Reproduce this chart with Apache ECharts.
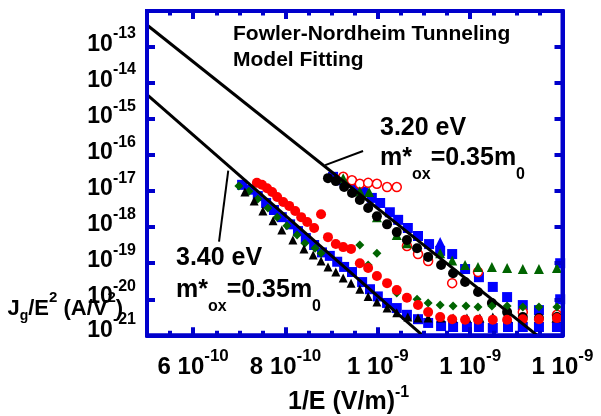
<!DOCTYPE html>
<html>
<head>
<meta charset="utf-8">
<script src="https://cdn.jsdelivr.net/npm/echarts@6/dist/echarts.min.js"></script>
<style>
html,body{margin:0;padding:0;background:#fff;}
#chart{width:601px;height:416px;}
</style>
</head>
<body>
<div id="chart"></div>
<script>
// ---------- data (x = 1/E in m/V, y = Jg/E^2 in A/V^2) ----------
const xMajorTicks = [6e-10, 8e-10, 1.0e-9, 1.2e-9, 1.4e-9];

const lowBlueX = [7.06e-10,7.23e-10,7.40e-10,7.58e-10,7.75e-10,7.92e-10,8.10e-10,8.27e-10,8.44e-10,8.62e-10,8.79e-10,8.96e-10,9.12e-10,9.27e-10,9.44e-10,9.66e-10,9.83e-10,10.00e-10,10.20e-10,10.41e-10,10.63e-10,10.87e-10,11.09e-10,11.37e-10,11.63e-10,11.93e-10,12.19e-10,12.49e-10,12.82e-10,13.14e-10,13.49e-10,13.88e-10];
const lowBlueY = [1.5e-17,1.1e-17,7.3e-18,4.7e-18,3.0e-18,1.9e-18,1.2e-18,7.8e-19,5.0e-19,3.2e-19,2.0e-19,1.6e-19,1.1e-19,7.9e-20,5.7e-20,3.0e-20,1.9e-20,1.2e-20,7.9e-21,5.7e-21,3.7e-21,2.8e-21,2.2e-21,1.8e-21,1.7e-21,1.7e-21,1.7e-21,1.6e-21,1.7e-21,1.7e-21,1.7e-21,1.7e-21];
const lowRedX = [7.38e-10,7.49e-10,7.60e-10,7.71e-10,7.82e-10,7.95e-10,8.08e-10,8.21e-10,8.34e-10,8.47e-10,8.62e-10,8.77e-10,8.92e-10,9.09e-10,9.25e-10,9.42e-10,9.61e-10,9.79e-10,9.98e-10,10.20e-10,10.41e-10,10.63e-10,10.87e-10,11.09e-10,11.35e-10,11.61e-10,11.89e-10,12.17e-10,12.49e-10,12.80e-10,13.14e-10,13.49e-10,13.88e-10];
const lowRedY = [1.7e-17,1.5e-17,1.2e-17,9.5e-18,6.9e-18,5.0e-18,3.9e-18,2.8e-18,1.9e-18,1.4e-18,9.5e-19,2.3e-18,5.3e-19,3.4e-19,2.8e-19,2.5e-19,1.0e-19,7.4e-20,4.4e-20,2.8e-20,1.8e-20,1.1e-20,6.9e-21,4.4e-21,3.2e-21,2.8e-21,2.7e-21,2.7e-21,2.7e-21,2.7e-21,2.8e-21,2.8e-21,3.0e-21];
const lowDiamondX = [6.99e-10,7.21e-10,7.40e-10,7.62e-10,7.82e-10,8.03e-10,8.25e-10,8.42e-10,8.64e-10,8.77e-10,9.61e-10,9.79e-10,9.98e-10,10.41e-10,10.85e-10,11.09e-10,11.35e-10,11.63e-10,11.91e-10,12.17e-10,12.47e-10,12.80e-10,13.14e-10,13.49e-10,13.88e-10];
const lowDiamondY = [1.4e-17,1.0e-17,6.1e-18,3.4e-18,1.9e-18,1.1e-18,6.1e-19,3.6e-19,2.6e-19,1.9e-19,3.2e-19,8.9e-20,1.9e-19,1.5e-20,1.0e-20,7.9e-21,6.9e-21,6.5e-21,6.5e-21,6.1e-21,6.5e-21,6.5e-21,6.1e-21,6.1e-21,6.1e-21];
const lowTriX = [7.12e-10,7.32e-10,7.51e-10,7.73e-10,7.92e-10,8.16e-10,8.40e-10,8.60e-10,8.77e-10,8.92e-10,9.09e-10,9.25e-10,9.42e-10,9.61e-10,9.79e-10,9.98e-10,10.20e-10,10.41e-10,10.65e-10,10.87e-10,11.09e-10,11.37e-10,11.63e-10,11.93e-10,12.21e-10,12.49e-10,12.82e-10,13.14e-10,13.49e-10,13.86e-10];
const lowTriY = [9.5e-18,5.3e-18,2.8e-18,1.5e-18,8.4e-19,4.4e-19,2.5e-19,1.7e-19,1.15e-19,7.9e-20,5.7e-20,3.9e-20,2.8e-20,1.9e-20,1.2e-20,8.4e-21,5.7e-21,4.2e-21,3.2e-21,3.0e-21,3.0e-21,3.0e-21,3.0e-21,3.0e-21,3.0e-21,3.2e-21,3.0e-21,3.0e-21,3.0e-21,3.0e-21];
const upBlackX = [8.92e-10,9.09e-10,9.27e-10,9.44e-10,9.61e-10,9.79e-10,9.98e-10,10.20e-10,10.41e-10,10.63e-10,10.85e-10,11.09e-10,11.37e-10,11.63e-10,11.89e-10,12.17e-10,12.47e-10,12.80e-10,13.14e-10,13.49e-10,13.88e-10];
const upBlackY = [2.3e-17,1.9e-17,1.3e-17,8.9e-18,5.7e-18,3.4e-18,2.0e-18,1.2e-18,7.3e-19,4.4e-19,2.6e-19,1.5e-19,8.9e-20,5.3e-20,3.0e-20,1.6e-20,7.9e-21,4.4e-21,3.2e-21,3.0e-21,3.2e-21];
const upOpenX = [9.25e-10,9.44e-10,9.61e-10,9.79e-10,9.98e-10,10.20e-10,10.41e-10,10.63e-10,10.87e-10,11.09e-10,11.61e-10,12.17e-10,13.14e-10,13.88e-10];
const upOpenY = [2.5e-17,2.0e-17,1.6e-17,1.7e-17,1.6e-17,1.3e-17,1.3e-17,3.0e-19,1.8e-19,1.15e-19,2.8e-20,5.7e-20,4.4e-21,3.7e-21];
const upGreenX = [9.25e-10,9.61e-10,9.81e-10,9.98e-10,10.41e-10,10.63e-10,11.35e-10,11.61e-10,11.89e-10,12.17e-10,12.47e-10,12.80e-10,13.14e-10,13.49e-10,13.88e-10];
const upGreenY = [2.3e-17,1.0e-17,9.5e-18,1.9e-18,6.1e-19,3.6e-19,1.9e-19,1.2e-19,8.9e-20,7.9e-20,7.9e-20,7.4e-20,6.9e-20,6.9e-20,7.4e-20];
const upBlueX = [9.03e-10,9.18e-10,9.35e-10,9.51e-10,9.68e-10,9.87e-10,10.05e-10,10.26e-10,10.44e-10,10.65e-10,10.87e-10,11.11e-10,11.35e-10,11.61e-10,11.89e-10,12.19e-10,12.49e-10,12.80e-10,13.14e-10,13.49e-10,13.95e-10,13.95e-10];
const upBlueY = [2.5e-17,2.0e-17,1.7e-17,1.3e-17,9.5e-18,6.5e-18,4.7e-18,2.6e-18,1.6e-18,9.5e-19,5.7e-19,3.4e-19,2.2e-19,1.8e-19,6.9e-20,4.1e-20,2.2e-20,1.15e-20,6.9e-21,5.0e-21,1.0e-20,1.0e-19];
const upBlueTriX = [11.35e-10];
const upBlueTriY = [3.9e-19];
const fit320X = [5.0e-10, 13.8e-10];
const fit320Y = [4.1e-13, 4.4e-22];
const fit340X = [5.0e-10, 11.2e-10];
const fit340Y = [4.75e-15, 5.5e-22];
const lead320X = [8.86e-10, 9.68e-10];
const lead320Y = [5.3e-17, 1.3e-16];
const lead340X = [6.76e-10, 6.56e-10];
const lead340Y = [3.7e-17, 3.95e-19];

// ---------- chart ----------
const F = '"Liberation Sans", Arial, Helvetica, sans-serif';
const AX = '#0000cc';
const pts = (xs, ys) => xs.map((x, i) => [x, ys[i]]);
function xLabel(v) {
  const e = Math.floor(Math.log10(v) + 1e-9);
  const m = Math.round(v / Math.pow(10, e));
  return '{b|' + m + ' 10}{s|' + e + '}';
}
function yLabel(v) {
  const e = Math.round(Math.log10(v));
  if (!isFinite(e) || e === -12) return '';
  return '{b|10}{s|' + e + '}';
}
const axLine = () => ({show: true, onZero: false, lineStyle: {color: AX, width: 4}});
const tick = (len, custom) => {
  const t = {show: true, inside: true, length: len, lineStyle: {color: AX, width: 4}};
  if (custom) t.customValues = custom;
  return t;
};
const gridPos = {left: 147, right: 38.5, top: 11, bottom: 80.7, containLabel: false, outerBoundsMode: 'none'};
const xDisp = () => ({gridIndex: 1, type: 'value', min: 5e-10, max: 1.4e-9, z: 10, splitLine: {show: false}, axisLine: axLine()});
const yRich = {
  b: {fontFamily: F, fontWeight: 'bold', fontSize: 23, color: '#000', lineHeight: 24, padding: [0, 0, 5, 0]},
  s: {fontFamily: F, fontWeight: 'bold', fontSize: 16, color: '#000', lineHeight: 24, padding: [0, 0, 26, 0]}
};
const mRich = {
  m: {fontFamily: F, fontWeight: 'bold', fontSize: 25, color: '#000', lineHeight: 26},
  s: {fontFamily: F, fontWeight: 'bold', fontSize: 16, color: '#000', lineHeight: 26, padding: [33, 0, 0, 0]}
};
const T = (text, pos, style) => Object.assign({text, padding: 0, itemGap: 0,
  textStyle: Object.assign({fontFamily: F, fontWeight: 'bold', color: '#000'}, style)}, pos);

const chart = echarts.init(document.getElementById('chart'), null, {renderer: 'canvas'});
const scat = (name, xs, ys, symbol, size, style) => ({
  type: 'scatter', name, xAxisIndex: 0, yAxisIndex: 0, data: pts(xs, ys), symbol, symbolSize: size,
  itemStyle: Object.assign({opacity: 1}, style)
});
const line = (xs, ys, w) => ({
  type: 'line', xAxisIndex: 0, yAxisIndex: 0, data: pts(xs, ys), showSymbol: false, symbol: 'none', clip: true,
  lineStyle: {color: '#000', width: w}
});

chart.setOption({
  animation: false,
  backgroundColor: '#fff',
  title: [
    T('Fowler-Nordheim Tunneling', {left: 233, top: 22}, {fontSize: 21, lineHeight: 24}),
    T('Model Fitting', {left: 233, top: 48.5}, {fontSize: 21, lineHeight: 24}),
    T('3.20 eV', {left: 380, top: 115.5}, {fontSize: 25, lineHeight: 26}),
    T('{m|m*}{s|ox}{m|=0.35m}{s|0}', {left: 380, top: 145.5}, {rich: mRich}),
    T('3.40 eV', {left: 176, top: 245.5}, {fontSize: 25, lineHeight: 26}),
    T('{m|m*}{s|ox}{m|=0.35m}{s|0}', {left: 176, top: 277.5}, {rich: mRich}),
    T('{m|1/E (V/m)}{s|-1}', {left: 288, top: 388.5}, {rich: {
      m: {fontFamily: F, fontWeight: 'bold', fontSize: 25, color: '#000', lineHeight: 28},
      s: {fontFamily: F, fontWeight: 'bold', fontSize: 16, color: '#000', lineHeight: 28, padding: [0, 0, 20, 0]}
    }}),
    // label for the 1e-21 decade (the log axis rounds this tiny tick value away)
    T('{b|10}{s|-21}', {right: 465, top: 321}, {rich: yRich})
  ],
  grid: [
    Object.assign({show: false}, gridPos),
    Object.assign({show: true, borderColor: AX, borderWidth: 4}, gridPos)
  ],
  xAxis: [
    {gridIndex: 0, type: 'value', min: 5e-10, max: 1.4e-9, show: false},
    Object.assign(xDisp(), {position: 'bottom', axisTick: tick(8, xMajorTicks),
      axisLabel: {show: true, customValues: xMajorTicks, formatter: xLabel, margin: 19,
        rich: {
          b: {fontFamily: F, fontWeight: 'bold', fontSize: 24, color: '#000', lineHeight: 26},
          s: {fontFamily: F, fontWeight: 'bold', fontSize: 17, color: '#000', lineHeight: 26, padding: [0, 0, 21, 0]}
        }}}),
    Object.assign(xDisp(), {position: 'bottom', interval: 0.5e-10, axisTick: tick(4.5), axisLabel: {show: false}}),
    Object.assign(xDisp(), {position: 'top', axisTick: tick(8, xMajorTicks), axisLabel: {show: false}}),
    Object.assign(xDisp(), {position: 'top', interval: 0.5e-10, axisTick: tick(4.5), axisLabel: {show: false}})
  ],
  yAxis: [
    {gridIndex: 0, type: 'log', logBase: 10, min: 1e-21, max: 1e-12, show: false},
    {gridIndex: 1, type: 'log', logBase: 10, min: 1e-21, max: 1e-12, position: 'left', z: 10,
     splitLine: {show: false}, axisLine: axLine(), axisTick: tick(8),
     axisLabel: {formatter: yLabel, margin: 11, rich: yRich},
     name: '{m|J}{b|g}{m|/E}{t|2}{m| (A/V}{t|2}{m|)}', nameLocation: 'middle', nameRotate: 90, nameGap: 98.5,
     nameTextStyle: {padding: [0, 44, 0, 0], color: '#000', rich: {
       m: {fontFamily: F, fontWeight: 'bold', fontSize: 22, color: '#000', lineHeight: 24},
       b: {fontFamily: F, fontWeight: 'bold', fontSize: 14, color: '#000', lineHeight: 24, padding: [14, 0, 0, 0]},
       t: {fontFamily: F, fontWeight: 'bold', fontSize: 15, color: '#000', lineHeight: 24, padding: [0, 0, 22, 0]}
     }}},
    {gridIndex: 1, type: 'log', logBase: 10, min: 1e-21, max: 1e-12, position: 'right', z: 10,
     splitLine: {show: false}, axisLine: axLine(), axisTick: tick(8), axisLabel: {show: false}}
  ],
  series: [
    scat('up blue', upBlueX, upBlueY, 'rect', 10, {color: '#0000ff'}),
    scat('low blue', lowBlueX, lowBlueY, 'rect', 10, {color: '#0000ff'}),
    scat('up blue tri', upBlueTriX, upBlueTriY, 'triangle', 10, {color: '#0000ff'}),
    scat('up open red', upOpenX, upOpenY, 'circle', 9, {color: '#ffffff', borderColor: '#ff0000', borderWidth: 1.5}),
    scat('up green tri', upGreenX, upGreenY, 'triangle', 10, {color: '#006400'}),
    scat('up black', upBlackX, upBlackY, 'circle', 10, {color: '#000000'}),
    scat('low diamond', lowDiamondX, lowDiamondY, 'diamond', 9, {color: '#006400'}),
    scat('low black tri', lowTriX, lowTriY, 'triangle', 9, {color: '#000000'}),
    scat('low red', lowRedX, lowRedY, 'circle', 10, {color: '#ff0000'}),
    line(fit320X, fit320Y, 3),
    line(fit340X, fit340Y, 3),
    line(lead320X, lead320Y, 2),
    line(lead340X, lead340Y, 2)
  ]
});
</script>
</body>
</html>
